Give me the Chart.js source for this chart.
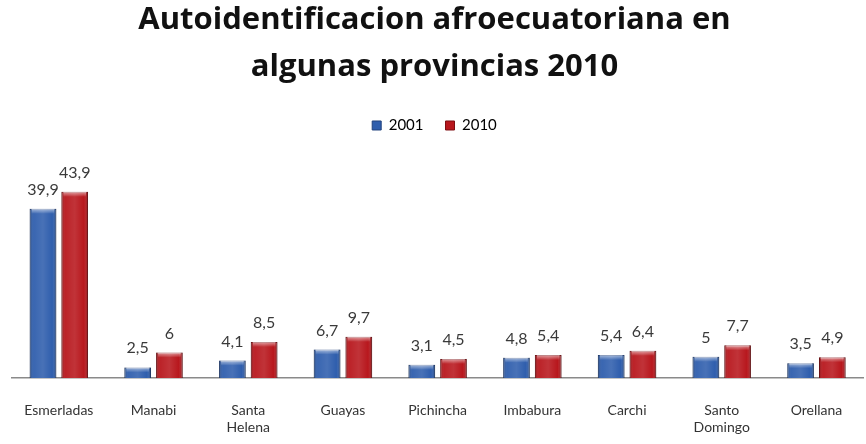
<!DOCTYPE html>
<html>
<head>
<meta charset="utf-8">
<script src="https://cdn.jsdelivr.net/npm/chart.js@4"></script>
<style>
html,body{margin:0;padding:0;background:#fff;}
#wrap{width:866px;height:444px;}
</style>
</head>
<body>
<div id="wrap"><canvas id="c" width="866" height="444"></canvas></div>
<script>
const categories = ["Esmerladas","Manabi",["Santa","Helena"],"Guayas","Pichincha","Imbabura","Carchi",["Santo","Domingo"],"Orellana"];
const values2001 = [39.9,2.5,4.1,6.7,3.1,4.8,5.4,5.0,3.5];
const values2010 = [43.9,6.0,8.5,9.7,4.5,5.4,6.4,7.7,4.9];
const seriesNames = ["2001","2010"];
const titleLines = ["Autoidentificacion afroecuatoriana en","algunas provincias 2010"];

const FONT = "Lato, 'Open Sans', sans-serif";
const TFONT = "'Open Sans', Lato, sans-serif";

const barStyle = {
  id: 'barStyle',
  afterDatasetsDraw(chart){
    const ctx = chart.ctx;
    chart.data.datasets.forEach((ds, di) => {
      const meta = chart.getDatasetMeta(di);
      meta.data.forEach((el) => {
        const w = el.width, l = el.x - w/2, r = el.x + w/2, top = el.y, bot = el.base;
        ctx.save();
        const g = ctx.createLinearGradient(l,0,r,0);
        g.addColorStop(0,'rgba(0,0,0,0.25)');
        g.addColorStop(0.15,'rgba(255,255,255,0.05)');
        g.addColorStop(0.5,'rgba(255,255,255,0.12)');
        g.addColorStop(0.85,'rgba(255,255,255,0.0)');
        g.addColorStop(1,'rgba(0,0,0,0.3)');
        ctx.fillStyle = g;
        ctx.fillRect(l, top, w, bot-top);
        const hh = Math.min(5, (bot-top)/2);
        const g2 = ctx.createLinearGradient(0,top,0,top+hh);
        g2.addColorStop(0,'rgba(255,255,255,0.55)');
        g2.addColorStop(1,'rgba(255,255,255,0)');
        ctx.fillStyle = g2;
        ctx.fillRect(l+2, top, w-4, hh);
        ctx.restore();
      });
    });
  }
};

const valueLabels = {
  id: 'valueLabels',
  afterDatasetsDraw(chart){
    const ctx = chart.ctx;
    ctx.save();
    ctx.font = "16px " + FONT;
    ctx.fillStyle = "#3a3a3a";
    ctx.textAlign = "center";
    ctx.textBaseline = "alphabetic";
    chart.data.datasets.forEach((ds, di) => {
      const meta = chart.getDatasetMeta(di);
      meta.data.forEach((el, i) => {
        const txt = String(ds.data[i]).replace('.', ',');
        ctx.fillText(txt, el.x, el.y - 14);
      });
    });
    ctx.restore();
  }
};

const legendSpacer = {
  id: 'legendSpacer',
  beforeInit(chart){
    const orig = chart.legend.fit;
    chart.legend.fit = function(){
      orig.bind(chart.legend)();
      this.height += 23;
    };
  }
};

new Chart(document.getElementById('c'), {
  type: 'bar',
  data: {
    labels: categories,
    datasets: [
      {label: seriesNames[0], data: values2001, backgroundColor: '#2F5EAD', borderColor: '#21427E', borderWidth: 1, borderSkipped: 'bottom'},
      {label: seriesNames[1], data: values2010, backgroundColor: '#B8171D', borderColor: '#7E0E12', borderWidth: 1, borderSkipped: 'bottom'}
    ]
  },
  options: {
    responsive: false,
    animation: false,
    layout: {padding: {left: 5, right: 2, top: 0, bottom: 0}},
    datasets: {bar: {categoryPercentage: 0.67, barPercentage: 0.84}},
    plugins: {
      title: {
        display: true,
        text: titleLines,
        font: {family: TFONT, size: 31, weight: 'bold', lineHeight: 1.516},
        color: '#111',
        padding: {top: -3, bottom: 5}
      },
      legend: {
        display: true,
        labels: {
          font: {family: FONT, size: 15},
          color: '#333',
          boxWidth: 9, boxHeight: 9,
          padding: 22,
          generateLabels(chart){
            return chart.data.datasets.map((d,i)=>({text: d.label, fillStyle: d.backgroundColor, strokeStyle: d.borderColor, lineWidth: 1, datasetIndex: i}));
          }
        }
      },
      tooltip: {enabled: false}
    },
    scales: {
      x: {
        grid: {display: false, drawTicks: false},
        border: {display: true, color: '#8a8a8a', width: 1.5},
        ticks: {font: {family: FONT, size: 14, lineHeight: 1.2}, color: '#333', padding: 24, maxRotation: 0, autoSkip: false},
        afterFit(scale){ scale.height = 66; }
      },
      y: {
        display: false,
        min: 0, max: 50
      }
    }
  },
  plugins: [barStyle, valueLabels, legendSpacer]
});
</script>
</body>
</html>
